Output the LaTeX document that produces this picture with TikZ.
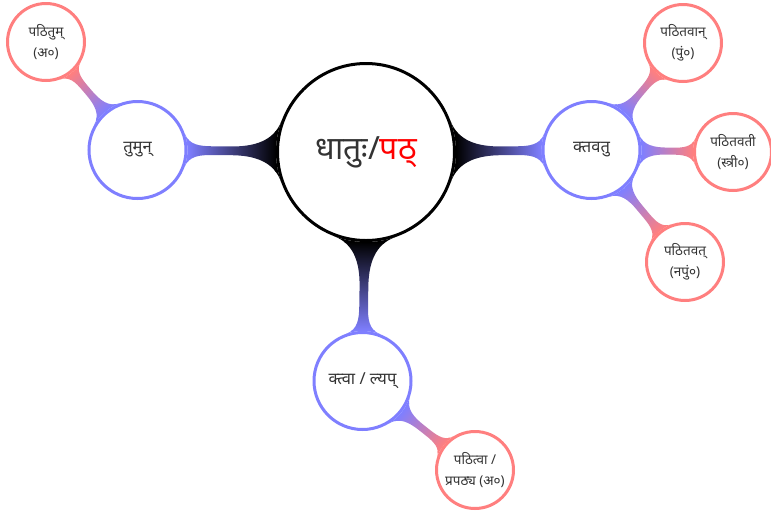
\documentclass[tikz,border=0pt]{standalone}
\usepackage{fontspec}
\setmainfont[Script=Devanagari]{Noto Sans}
\usetikzlibrary{mindmap,backgrounds}
\definecolor{lvone}{HTML}{7F7FFF}
\definecolor{lvtwo}{HTML}{FF7F7F}
\definecolor{txt}{HTML}{333333}
\begin{document}
\begin{tikzpicture}[x=1pt,y=-1pt,
  rootc/.style={circle,draw=black,fill=white,line width=3pt,minimum size=177pt,inner sep=0pt,text=txt,font=\fontsize{32}{34}\selectfont},
  onec/.style={circle,draw=lvone,fill=white,line width=3pt,minimum size=97pt,inner sep=0pt,text=txt,font=\fontsize{16.5}{18}\selectfont},
  twoc/.style={circle,draw=lvtwo,fill=white,line width=3pt,minimum size=77pt,inner sep=0pt,text=txt,align=center,font=\fontsize{13.5}{21}\selectfont},
  barA/.style={circle connection bar switch color=from (black) to (lvone),line width=11pt},
  barB/.style={circle connection bar switch color=from (lvone) to (lvtwo),line width=7.5pt}]
\useasboundingbox (0,0) rectangle (771,515);
\node[rootc] (root) at (366,152) {धातुः/\textcolor{red}{पठ्}};
\node[onec] (tumun) at (137.5,150) {तुमुन्};
\node[onec] (ktavatu) at (591.5,150) {क्तवतु};
\node[onec] (ktva) at (362.5,381) {क्त्वा / ल्यप्};
\node[twoc] (pathitum) at (46,42) {पठितुम्\\(अ०)};
\node[twoc] (pathitavan) at (683,43) {पठितवान्\\(पुं०)};
\node[twoc] (pathitavati) at (733,152) {पठितवती\\(स्त्री०)};
\node[twoc] (pathitavat) at (685,262) {पठितवत्\\(नपुं०)};
\node[twoc] (pathitva) at (475,470) {पठित्वा /\\प्रपठ्य (अ०)};
\begin{pgfonlayer}{background}
\path (root) to[barA] (tumun);
\path (root) to[barA] (ktavatu);
\path (root) to[barA] (ktva);
\path (tumun) to[barB] (pathitum);
\path (ktavatu) to[barB] (pathitavan);
\path (ktavatu) to[barB] (pathitavati);
\path (ktavatu) to[barB] (pathitavat);
\path (ktva) to[barB] (pathitva);
\end{pgfonlayer}
\end{tikzpicture}
\end{document}
